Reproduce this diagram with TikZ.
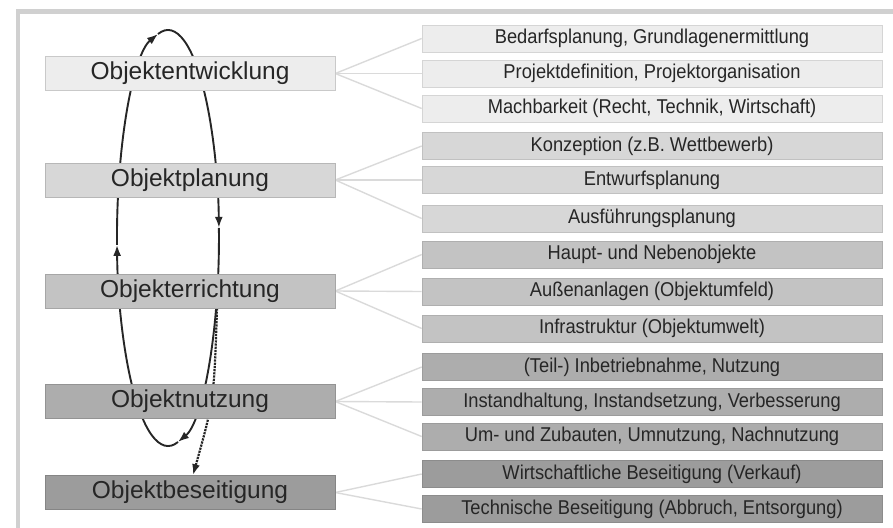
\documentclass[tikz,border=0pt]{standalone}
\usepackage{fontspec}
\setmainfont{Liberation Sans}
\newfontfamily\taskfont[FakeStretch=0.915]{Liberation Sans}
\usetikzlibrary{positioning,calc,arrows.meta,backgrounds}

\definecolor{frameGray}{HTML}{D0D0D0}
\definecolor{fanGray}{HTML}{DADADA}
\definecolor{txtGray}{HTML}{262626}
\definecolor{grpA}{HTML}{EDEDED}
\definecolor{grpB}{HTML}{D7D7D7}
\definecolor{grpC}{HTML}{C3C3C3}
\definecolor{grpD}{HTML}{ADADAD}
\definecolor{grpE}{HTML}{9C9C9C}

\tikzset{
    phasebox/.style={draw=#1!85!black, fill=#1, line width=0.6pt, inner sep=0pt,
        minimum width=290pt, minimum height=34pt, text=txtGray,
        font=\fontsize{24.5}{28}\selectfont},
    taskbox/.style={draw=#1!90!black, fill=#1, line width=0.6pt, inner sep=0pt,
        minimum width=460pt, minimum height=27pt, text=txtGray,
        font=\taskfont\fontsize{20}{24}\selectfont},
    fanline/.style={draw=fanGray, line width=1.4pt},
    cycleline/.style={draw=black!85, line width=1.9pt, -{Latex[length=11pt,width=8pt]}},
    exitline/.style={draw=black!85, line width=2.2pt, densely dotted, -{Latex[length=11pt,width=8pt]}}
}

\begin{document}
\begin{tikzpicture}[x=1pt,y=-1pt]
    \useasboundingbox (0,0) rectangle (893,527);

    % Phases of the object life cycle
    \node[phasebox=grpA] (entw) at (190,73.5) {Objektentwicklung};
    \node[phasebox=grpB] (plan) at (190,180) {Objektplanung};
    \node[phasebox=grpC] (erri) at (190,291) {Objekterrichtung};
    \node[phasebox=grpD] (nutz) at (190,401.5) {Objektnutzung};
    \node[phasebox=grpE] (bese) at (190,492.5) {Objektbeseitigung};

    % Tasks per phase
    \node[taskbox=grpA] (tA1) at (652,38.5) {Bedarfsplanung, Grundlagenermittlung};
    \node[taskbox=grpA] (tA2) at (652,73.5) {Projektdefinition, Projektorganisation};
    \node[taskbox=grpA] (tA3) at (652,108.5) {Machbarkeit (Recht, Technik, Wirtschaft)};
    \node[taskbox=grpB] (tB1) at (652,146) {Konzeption (z.B. Wettbewerb)};
    \node[taskbox=grpB] (tB2) at (652,180) {Entwurfsplanung};
    \node[taskbox=grpB] (tB3) at (652,218.5) {Ausführungsplanung};
    \node[taskbox=grpC] (tC1) at (652,254.5) {Haupt- und Nebenobjekte};
    \node[taskbox=grpC] (tC2) at (652,291.5) {Außenanlagen (Objektumfeld)};
    \node[taskbox=grpC] (tC3) at (652,328.5) {Infrastruktur (Objektumwelt)};
    \node[taskbox=grpD] (tD1) at (652,367) {(Teil-) Inbetriebnahme, Nutzung};
    \node[taskbox=grpD] (tD2) at (652,402) {Instandhaltung, Instandsetzung, Verbesserung};
    \node[taskbox=grpD] (tD3) at (652,436.5) {Um- und Zubauten, Umnutzung, Nachnutzung};
    \node[taskbox=grpE] (tE1) at (652,474) {Wirtschaftliche Beseitigung (Verkauf)};
    \node[taskbox=grpE] (tE2) at (652,509) {Technische Beseitigung (Abbruch, Entsorgung)};

    % Loop points and dotted exit
    \coordinate (loopTop) at (158.0,34.0);
    \coordinate (loopRight) at (218.9,227.8);
    \coordinate (loopBottom) at (178.0,442.0);
    \coordinate (loopLeft) at (117.0,244.9);
    \coordinate (exitStart) at ([xshift=27pt]erri.south);
    \coordinate (exitEnd) at ([xshift=3pt]bese.north);

    \begin{pgfonlayer}{background}
        % open frame
        \draw[frameGray, line width=4.5pt] (900,11.7) -- (17.8,11.7) -- (17.8,535);

        % fan lines
        \draw[fanline] (entw.east) -- (tA1.west);
        \draw[fanline] (entw.east) -- (tA2.west);
        \draw[fanline] (entw.east) -- (tA3.west);
        \draw[fanline] (plan.east) -- (tB1.west);
        \draw[fanline] (plan.east) -- (tB2.west);
        \draw[fanline] (plan.east) -- (tB3.west);
        \draw[fanline] (erri.east) -- (tC1.west);
        \draw[fanline] (erri.east) -- (tC2.west);
        \draw[fanline] (erri.east) -- (tC3.west);
        \draw[fanline] (nutz.east) -- (tD1.west);
        \draw[fanline] (nutz.east) -- (tD2.west);
        \draw[fanline] (nutz.east) -- (tD3.west);
        \draw[fanline] (bese.east) -- (tE1.west);
        \draw[fanline] (bese.east) -- (tE2.west);

        % life cycle loop (clockwise)
        \draw[cycleline] (loopTop) arc[start angle=101.3, end angle=2.8, x radius=51pt, y radius=208pt];
        \draw[cycleline] (loopRight) arc[start angle=2.8, end angle=-78.7, x radius=51pt, y radius=208pt];
        \draw[cycleline] (loopBottom) arc[start angle=-78.7, end angle=-178.1, x radius=51pt, y radius=208pt];
        \draw[cycleline] (loopLeft) arc[start angle=-178.1, end angle=-258.7, x radius=51pt, y radius=208pt];

        % exit to demolition
        \draw[exitline] (exitStart) .. controls (214,400) .. (exitEnd);
    \end{pgfonlayer}
\end{tikzpicture}
\end{document}
